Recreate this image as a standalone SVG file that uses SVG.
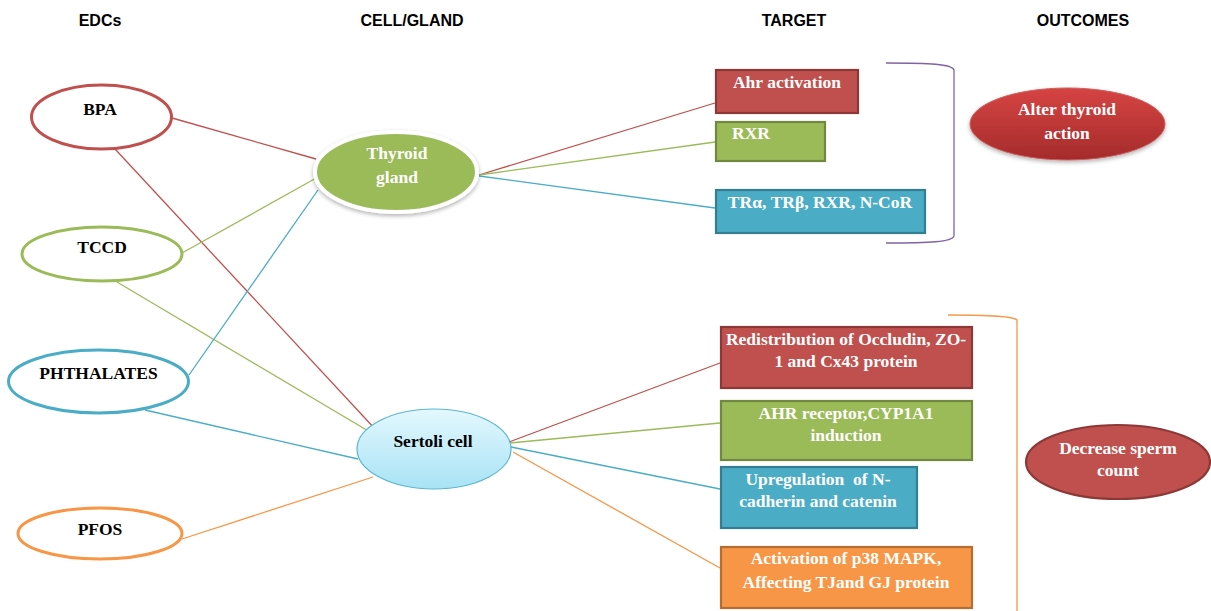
<svg xmlns="http://www.w3.org/2000/svg" width="1211" height="611" viewBox="0 0 1211 611">
<defs>
<style>
.hdr{font-family:"Liberation Sans",Arial,sans-serif;font-weight:bold;font-size:16px;fill:#000;text-anchor:middle}
.lbl{font-family:"Liberation Serif","Times New Roman",serif;font-weight:bold;font-size:17.5px;text-anchor:middle}
.blk{fill:#000}
.wht{fill:#fff}
.edc{fill:#fff;stroke-width:3}
.c{fill:none;stroke-width:1.3}
.red{stroke:#C0504D}
.grn{stroke:#9BBB59}
.blu{stroke:#4BACC6}
.org{stroke:#F79646}
.box{stroke-width:2.2}
</style>
<linearGradient id="gSert" x1="0" y1="0" x2="0" y2="1">
<stop offset="0" stop-color="#E3F8FE"/>
<stop offset="1" stop-color="#A8E3F5"/>
</linearGradient>
<linearGradient id="gAlter" x1="0" y1="0" x2="0" y2="1">
<stop offset="0" stop-color="#D64443"/>
<stop offset="1" stop-color="#A52B2B"/>
</linearGradient>
<filter id="sh" x="-20%" y="-20%" width="140%" height="150%">
<feDropShadow dx="0" dy="2" stdDeviation="2" flood-color="#000" flood-opacity="0.3"/>
</filter>
</defs>
<rect width="1211" height="611" fill="#fff"/>

<g id="headers">
<text class="hdr" x="100" y="26">EDCs</text>
<text class="hdr" x="412" y="26">CELL/GLAND</text>
<text class="hdr" x="794" y="26">TARGET</text>
<text class="hdr" x="1083" y="26">OUTCOMES</text>
</g>

<g id="connectors">
<line class="c red" x1="172" y1="118" x2="316" y2="159"/>
<line class="c red" x1="115" y1="149" x2="376" y2="430"/>
<line class="c grn" x1="182" y1="253" x2="318" y2="177"/>
<line class="c grn" x1="117" y1="282" x2="370" y2="432"/>
<line class="c blu" x1="189" y1="375" x2="318" y2="190"/>
<line class="c blu" x1="145" y1="410" x2="358" y2="459"/>
<line class="c org" x1="182" y1="539" x2="373" y2="477"/>
<line class="c red" x1="479" y1="175" x2="715" y2="103"/>
<line class="c grn" x1="479" y1="175" x2="715" y2="142"/>
<line class="c blu" x1="479" y1="176" x2="715" y2="208"/>
<line class="c red" x1="509" y1="442" x2="720" y2="363"/>
<line class="c grn" x1="510" y1="443" x2="720" y2="423"/>
<line class="c blu" x1="511" y1="447" x2="720" y2="489"/>
<line class="c org" x1="513" y1="452" x2="720" y2="568"/>
<path class="c" stroke="#8064A2" d="M886 63 C930 63 952 64 954 70 L954 236 C952 242 930 243 886 243"/>
<path class="c" stroke="#F79646" d="M948 315 C990 315 1014 316 1017 320 L1017 611"/>
</g>

<g id="bpa">
<ellipse class="edc red" cx="101.5" cy="117" rx="70" ry="32"/>
<text class="lbl blk" x="100" y="115">BPA</text>
</g>
<g id="tccd">
<ellipse class="edc grn" cx="102" cy="254" rx="80" ry="27"/>
<text class="lbl blk" x="102" y="253">TCCD</text>
</g>
<g id="phthalates">
<ellipse class="edc blu" cx="98.5" cy="381.5" rx="90" ry="31.5"/>
<text class="lbl blk" x="98.5" y="379">PHTHALATES</text>
</g>
<g id="pfos">
<ellipse class="edc org" cx="100" cy="533.5" rx="82" ry="25.5"/>
<text class="lbl blk" x="100" y="535">PFOS</text>
</g>

<g id="thyroid">
<ellipse cx="396" cy="172" rx="81" ry="40" fill="#9BBB59" stroke="#fff" stroke-width="4" filter="url(#sh)"/>
<text class="lbl wht" x="397" y="159">Thyroid</text>
<text class="lbl wht" x="397" y="183">gland</text>
</g>

<g id="sertoli">
<ellipse cx="434" cy="449" rx="77" ry="40" fill="url(#gSert)" stroke="#5AB6CF" stroke-width="1.2"/>
<text class="lbl blk" x="433" y="447">Sertoli cell</text>
</g>

<g id="t-ahr">
<rect class="box" x="716" y="70" width="142" height="43" fill="#C0504D" stroke="#8C3836"/>
<text class="lbl wht" x="787" y="88">Ahr activation</text>
</g>
<g id="t-rxr">
<rect class="box" x="716" y="122" width="109" height="39" fill="#9BBB59" stroke="#71893F"/>
<text class="lbl wht" x="732" y="139" style="text-anchor:start">RXR</text>
</g>
<g id="t-tr">
<rect class="box" x="716" y="190" width="209" height="43" fill="#4BACC6" stroke="#357D91"/>
<text class="lbl wht" x="820" y="208">TRα, TRβ, RXR, N-CoR</text>
</g>

<g id="t-redis">
<rect class="box" x="721" y="327" width="251" height="61" fill="#C0504D" stroke="#8C3836"/>
<text class="lbl wht" x="846" y="345">Redistribution of Occludin, ZO-</text>
<text class="lbl wht" x="846" y="367">1 and Cx43 protein</text>
</g>
<g id="t-ahrr">
<rect class="box" x="721" y="401" width="251" height="59" fill="#9BBB59" stroke="#71893F"/>
<text class="lbl wht" x="846" y="419">AHR receptor,CYP1A1</text>
<text class="lbl wht" x="846" y="441">induction</text>
</g>
<g id="t-upreg">
<rect class="box" x="721" y="467" width="196" height="61" fill="#4BACC6" stroke="#357D91"/>
<text class="lbl wht" x="818" y="485" xml:space="preserve">Upregulation  of N-</text>
<text class="lbl wht" x="818" y="507">cadherin and catenin</text>
</g>
<g id="t-p38">
<rect class="box" x="721" y="547" width="251" height="61" fill="#F79646" stroke="#B66D31"/>
<text class="lbl wht" x="846" y="564">Activation of p38 MAPK,</text>
<text class="lbl wht" x="846" y="588">Affecting TJand GJ protein</text>
</g>

<g id="o-alter">
<ellipse cx="1067.5" cy="124" rx="97.5" ry="36" fill="url(#gAlter)" stroke="#C9605E" stroke-width="1" filter="url(#sh)"/>
<text class="lbl wht" x="1067" y="115">Alter thyroid</text>
<text class="lbl wht" x="1067" y="139">action</text>
</g>
<g id="o-sperm">
<ellipse cx="1118" cy="462" rx="92" ry="37" fill="#C0504D" stroke="#8C3836" stroke-width="2.2"/>
<text class="lbl wht" x="1118" y="454">Decrease sperm</text>
<text class="lbl wht" x="1118" y="476">count</text>
</g>
</svg>
